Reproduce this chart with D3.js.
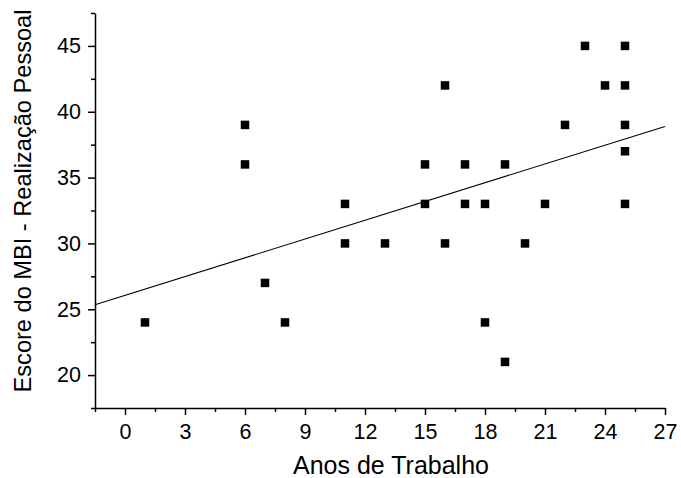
<!DOCTYPE html>
<html>
<head>
<meta charset="utf-8">
<script src="https://cdn.jsdelivr.net/npm/d3@7"></script>
<style>
  body { margin: 0; background: #fff; }
  svg { display: block; }
  text { font-family: "Liberation Sans", Arial, sans-serif; fill: #000; }
</style>
</head>
<body>
<svg id="chart" width="681" height="478"></svg>
<script>
// Years of work vs. MBI personal accomplishment score
const anos = [1, 6, 6, 7, 8, 11, 11, 13, 15, 15, 16, 16, 17, 17, 18, 18, 19, 19, 20, 21, 22, 23, 24, 25, 25, 25, 25, 25];
const escore = [24, 39, 36, 27, 24, 33, 30, 30, 36, 33, 42, 30, 36, 33, 33, 24, 36, 21, 30, 33, 39, 45, 42, 45, 42, 39, 37, 33];
const xTicks = [0, 3, 6, 9, 12, 15, 18, 21, 24, 27];
const yTicks = [20, 25, 30, 35, 40, 45];
const xDomain = [-1.5, 27];
const yDomain = [17.5, 47.5];

const svg = d3.select("#chart");
const plot = { left: 95, right: 665, top: 13, bottom: 408 };

const x = d3.scaleLinear().domain(xDomain).range([plot.left, plot.right]);
const y = d3.scaleLinear().domain(yDomain).range([plot.bottom, plot.top]);

// least-squares fit
const mx = d3.mean(anos), my = d3.mean(escore);
const sxy = d3.sum(anos, (v, i) => (v - mx) * (escore[i] - my));
const sxx = d3.sum(anos, v => (v - mx) * (v - mx));
const slope = sxy / sxx, intercept = my - slope * mx;

svg.append("line")
  .attr("x1", x(xDomain[0])).attr("y1", y(intercept + slope * xDomain[0]))
  .attr("x2", x(xDomain[1])).attr("y2", y(intercept + slope * xDomain[1]))
  .attr("stroke", "#000").attr("stroke-width", 1.1);

// markers
const s = 8.5;
svg.append("g").selectAll("rect").data(anos).join("rect")
  .attr("x", (d) => x(d) - s / 2)
  .attr("y", (d, i) => y(escore[i]) - s / 2)
  .attr("width", s).attr("height", s)
  .attr("fill", "#000");

// axes: major ticks with labels, minor ticks in between
const minorX = d3.range(xDomain[0], xDomain[1] + 0.01, 1.5).filter(v => Math.abs(v % 3) > 0.01);
const minorY = d3.range(yDomain[0], yDomain[1] + 0.01, 5);

const gx = svg.append("g").attr("transform", `translate(0,${plot.bottom})`);
gx.call(d3.axisBottom(x).tickValues(xTicks).tickSize(7).tickPadding(9).tickSizeOuter(0));
gx.append("g").call(d3.axisBottom(x).tickValues(minorX).tickSize(4).tickFormat("").tickSizeOuter(0))
  .select(".domain").remove();

const gy = svg.append("g").attr("transform", `translate(${plot.left},0)`);
gy.call(d3.axisLeft(y).tickValues(yTicks).tickSize(7).tickPadding(7).tickSizeOuter(0));
gy.append("g").call(d3.axisLeft(y).tickValues(minorY).tickSize(4).tickFormat("").tickSizeOuter(0))
  .select(".domain").remove();

svg.selectAll(".domain").attr("stroke-width", 1.5);
svg.selectAll(".tick line").attr("stroke-width", 1.5);
svg.selectAll(".tick text").style("font-size", "21.5px").style("font-family", "'Liberation Sans', Arial, sans-serif");

svg.append("text")
  .attr("x", 391).attr("y", 474)
  .attr("text-anchor", "middle")
  .style("font-size", "25px")
  .text("Anos de Trabalho");

svg.append("text")
  .attr("transform", "translate(31,201) rotate(-90)")
  .attr("text-anchor", "middle")
  .style("font-size", "23.6px")
  .text("Escore do MBI - Realização Pessoal");
</script>
</body>
</html>
